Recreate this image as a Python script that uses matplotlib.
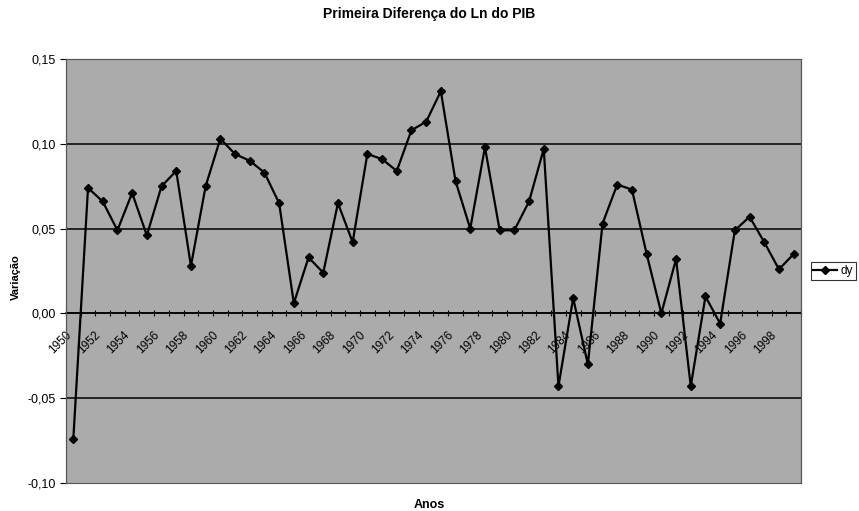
import numpy as np
import matplotlib.pyplot as plt
from matplotlib.patches import Rectangle

plt.rcParams['font.family'] = ['Liberation Sans', 'DejaVu Sans']

# anos 1950-1999, primeira diferença do ln do PIB
anos = list(range(1950, 2000))
dy = [-0.074, 0.074, 0.066, 0.049, 0.071, 0.046, 0.075, 0.084, 0.028, 0.075,
      0.103, 0.094, 0.090, 0.083, 0.065, 0.006, 0.033, 0.024, 0.065, 0.042,
      0.094, 0.091, 0.084, 0.108, 0.113, 0.131, 0.078, 0.050, 0.098, 0.049,
      0.049, 0.066, 0.097, -0.043, 0.009, -0.030, 0.053, 0.076, 0.073, 0.035,
      0.000, 0.032, -0.043, 0.010, -0.006, 0.049, 0.057, 0.042, 0.026, 0.035]
y_ticks = [-0.10, -0.05, 0.00, 0.05, 0.10, 0.15]

fig = plt.figure(figsize=(8.59, 5.11), dpi=100)
ax = fig.add_axes([0.0768, 0.0548, 0.8557, 0.8297])
ax.set_facecolor('#ababab')

x = np.arange(len(anos))
for v in y_ticks[1:-1]:
    ax.axhline(v, color='black', lw=1.1, zorder=1)

ax.plot(x, dy, color='black', lw=1.6, marker='D', markersize=4.2,
        markerfacecolor='black', label='dy', zorder=3)

ax.set_xlim(-0.5, len(anos) - 0.5)
ax.set_ylim(-0.10, 0.15)
ax.set_yticks(y_ticks)
ax.set_yticklabels([f"{v:.2f}".replace('.', ',') for v in y_ticks], fontsize=9)
ax.tick_params(axis='y', direction='out', length=4, width=0.8, pad=3)

# eixo x cruzando em zero
ax.spines['bottom'].set_position(('data', 0))
ax.spines['bottom'].set_color('black')
ax.spines['bottom'].set_linewidth(1.1)
for s in ['top', 'left', 'right']:
    ax.spines[s].set_color('#555555')
    ax.spines[s].set_linewidth(0.8)
# moldura da área do gráfico (borda inferior)
ax.add_patch(Rectangle((0, 0), 1, 1, transform=ax.transAxes, fill=False,
                       edgecolor='#555555', lw=0.8, clip_on=False, zorder=4))

ax.set_xticks(x[::2])
ax.set_xticklabels([str(a) for a in anos[::2]], rotation=45, ha='right',
                   va='top', fontsize=8.5)
ax.set_xticks(np.arange(len(anos) + 1) - 0.5, minor=True)
ax.tick_params(axis='x', which='major', length=0, pad=11)
ax.tick_params(axis='x', which='minor', direction='inout', length=4, width=0.8)

fig.text(0.5, 0.972, 'Primeira Diferença do Ln do PIB', ha='center', va='center',
         fontsize=10, fontweight='bold')
fig.text(0.5, 0.012, 'Anos', ha='center', va='center', fontsize=9, fontweight='bold')
fig.text(0.019, 0.458, 'Variação', ha='center', va='center', rotation=90,
         fontsize=8, fontweight='bold')

leg = fig.legend(loc='center', bbox_to_anchor=(0.97, 0.469), fontsize=8.5,
                 frameon=True, fancybox=False, borderpad=0.25, handlelength=2.0,
                 handletextpad=0.3, borderaxespad=0)
leg.get_frame().set_edgecolor('black')
leg.get_frame().set_linewidth(0.8)

fig.savefig('out.png', dpi=100)
